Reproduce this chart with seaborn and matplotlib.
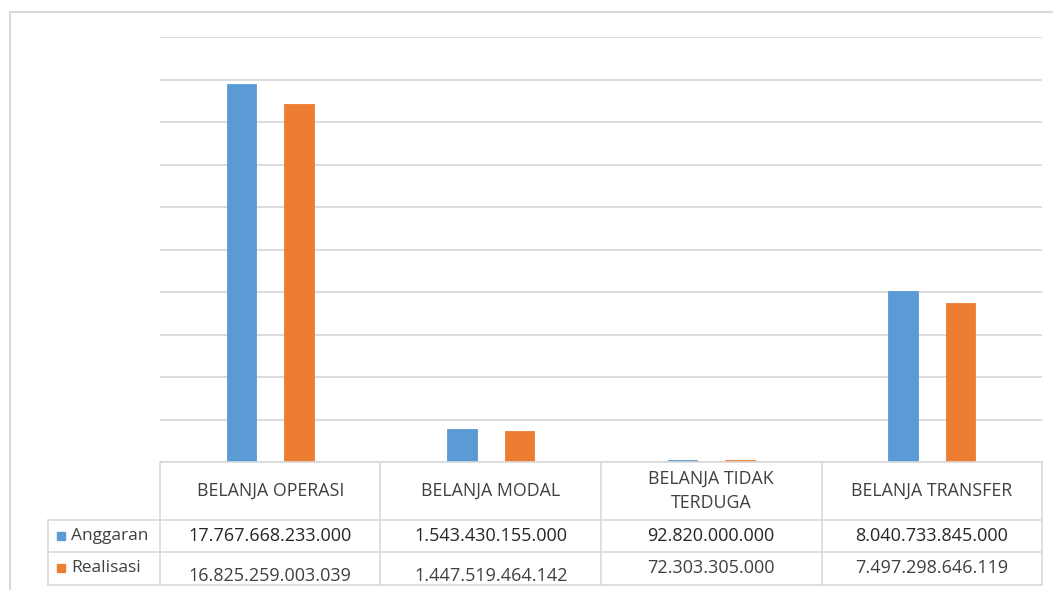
import matplotlib
matplotlib.use("Agg")
import matplotlib.pyplot as plt
import seaborn as sns
import pandas as pd
import numpy as np
from matplotlib.lines import Line2D
from matplotlib.patches import Rectangle
from matplotlib.transforms import blended_transform_factory

categories = ["BELANJA OPERASI", "BELANJA MODAL", "BELANJA TIDAK\nTERDUGA", "BELANJA TRANSFER"]
series_names = ["Anggaran", "Realisasi"]
anggaran = [17767668233000, 1543430155000, 92820000000, 8040733845000]
realisasi = [16825259003039, 1447519464142, 72303305000, 7497298646119]
colors = ["#5B9BD5", "#ED7D31"]

sns.set_theme(style="white")
plt.rcParams["font.family"] = ["Open Sans", "DejaVu Sans"]

df = pd.DataFrame({
    "kategori": categories * 2,
    "seri": [series_names[0]] * 4 + [series_names[1]] * 4,
    "nilai": anggaran + realisasi,
})

W, H = 1053, 590
fig = plt.figure(figsize=(W / 100, H / 100), dpi=100)
ax = fig.add_axes([160 / W, 1 - 462 / H, (1042 - 160) / W, (462 - 37) / H])

sns.barplot(data=df, x="kategori", y="nilai", hue="seri", order=categories,
            hue_order=series_names, palette=colors, width=0.52, gap=0.48,
            saturation=1, legend=False, ax=ax, errorbar=None)
for p in ax.patches:
    p.set_edgecolor(p.get_facecolor())
    p.set_linewidth(0.6)

ax.set_xlim(-0.5, 3.5)
ax.set_ylim(0, 20e12)
ax.set_yticks(np.arange(0, 20e12 + 1, 2e12))
ax.set_yticklabels([])
ax.set_xticks([])
ax.set_xlabel("")
ax.set_ylabel("")
ax.tick_params(length=0)
for s in ax.spines.values():
    s.set_visible(False)
ax.yaxis.grid(True, color="#d9d9d9", lw=1.3)
ax.set_axisbelow(True)

def fx(x):
    return x / W

def fy(y):
    return 1 - y / H

lc = "#d9d9d9"
tc = "#404040"

# outer frame
fig.add_artist(Rectangle((fx(10), fy(600)), fx(1060 - 10), (600 - 12) / H,
                         transform=fig.transFigure, fill=False, ec="#d9d9d9", lw=1.5))

def hline(x0, x1, y):
    fig.add_artist(Line2D([fx(x0), fx(x1)], [fy(y), fy(y)], color=lc, lw=1.2,
                          transform=fig.transFigure))

def vline(x, y0, y1):
    fig.add_artist(Line2D([fx(x), fx(x)], [fy(y0), fy(y1)], color=lc, lw=1.2,
                          transform=fig.transFigure))

hline(160, 1042, 462)
hline(48, 1042, 520)
hline(48, 1042, 552)
hline(48, 1042, 585)
for x in [160, 380, 601, 822, 1042]:
    vline(x, 462, 585)
vline(48, 520, 585)

trans = blended_transform_factory(ax.transData, fig.transFigure)

def fmt(v):
    return f"{v:,}".replace(",", ".")

for i, c in enumerate(categories):
    fig.text(i, fy(491), c, transform=trans, ha="center", va="center",
             fontsize=12.8, color=tc, linespacing=1.4)
    fig.text(i, fy(536), fmt(anggaran[i]), transform=trans, ha="center",
             va="center", fontsize=13, color="#262626")
    yy = 576 if i < 2 else 568
    fig.text(i, fy(yy), fmt(realisasi[i]), transform=trans, ha="center",
             va="center", fontsize=13, color=tc)

for j, (name, col, y) in enumerate(zip(series_names, colors, [536, 568])):
    fig.add_artist(Rectangle((fx(57), fy(y + 4)), 8 / W, 8 / H,
                             transform=fig.transFigure, color=col))
    fig.text(fx(71), fy(y), name, ha="left", va="center", fontsize=12.5, color=tc)

fig.savefig("out.png", dpi=100)
